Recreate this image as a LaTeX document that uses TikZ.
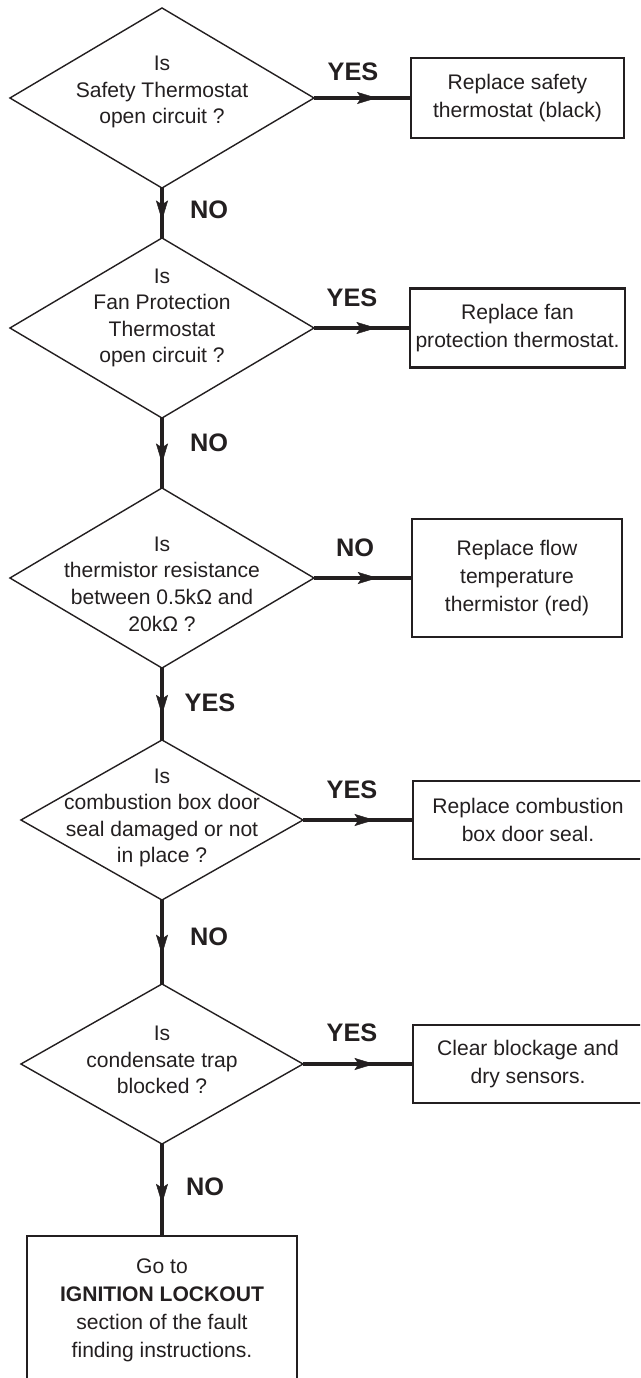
\documentclass[tikz,border=0pt]{standalone}
\usepackage{fontspec}
\setmainfont{Liberation Sans}
\usetikzlibrary{shapes.geometric,arrows.meta,decorations.markings}
\definecolor{ink}{HTML}{231F20}
\newcommand\qsize{\fontsize{15}{18.9}\selectfont}
\newcommand\bsize{\fontsize{15}{19.9}\selectfont}
\newcommand\asize{\fontsize{18}{21}\selectfont\bfseries}

\begin{document}
\begin{tikzpicture}[x=0.025cm, y=-0.025cm,
    decision/.style={diamond, draw=ink, line width=1pt, inner sep=0pt, outer sep=0pt, minimum width=7.6cm, minimum height=4.5cm},
    qtext/.style={align=center, text=ink, font=\qsize},
    action/.style={rectangle, draw=ink, line width=1.5pt, inner sep=0pt, outer sep=0pt, align=center, text=ink, font=\bsize},
    answer/.style={text=ink, font=\asize},
    flow/.style={draw=ink, line width=3.2pt, postaction={decorate},
        decoration={markings, mark=at position 0.65 with {\arrow{Stealth[length=0.5cm, width=0.3cm, inset=0.1cm, line width=0.3pt]}}}}]
        \path[use as bounding box, clip] (0,0) rectangle (640,1378);

        % question 1
        \node[decision] (d1) at (162,98) {};
        \node[qtext] (t1) at (162,92) {Is\\Safety Thermostat\\open circuit ?};
        \node[action, minimum width=5.325cm, minimum height=2cm] (b1) at (517.5,98) {Replace safety\\thermostat (black)};
        \node[answer] (a1) at (353,72) {YES};
        \node[answer] (a2) at (209,210) {NO};

        % question 2
        \node[decision] (d2) at (162,328) {};
        \node[qtext] (t2) at (162,318) {Is\\Fan Protection\\Thermostat\\open circuit ?};
        \node[action, minimum width=5.375cm, minimum height=1.975cm] (b2) at (517.5,328) {Replace fan\\protection thermostat.};
        \node[answer] (a3) at (352,298) {YES};
        \node[answer] (a4) at (209,443) {NO};

        % question 3
        \node[decision] (d3) at (162,578) {};
        \node[qtext] (t3) at (162,584) {Is\\thermistor resistance\\between 0.5kΩ and\\20kΩ ?};
        \node[action, minimum width=5.25cm, minimum height=2.95cm] (b3) at (517,578) {Replace flow\\temperature\\thermistor (red)};
        \node[answer] (a5) at (355,548) {NO};
        \node[answer] (a6) at (210,703) {YES};

        % question 4
        \node[decision, minimum width=7.05cm, minimum height=4cm] (d4) at (162,820) {};
        \node[qtext] (t4) at (162,818) {Is\\combustion box door\\seal damaged or not\\in place ?};
        \node[action, minimum width=5.75cm, minimum height=1.95cm] (b4) at (528,820) {Replace combustion\\box door seal.};
        \node[answer] (a7) at (352,790) {YES};
        \node[answer] (a8) at (209,937) {NO};

        % question 5
        \node[decision, minimum width=7.05cm, minimum height=4cm] (d5) at (162,1064) {};
        \node[qtext] (t5) at (162,1060) {Is\\condensate trap\\blocked ?};
        \node[action, minimum width=5.75cm, minimum height=1.95cm] (b5) at (528,1064) {Clear blockage and\\dry sensors.};
        \node[answer] (a9) at (352,1033) {YES};
        \node[answer] (a10) at (205,1187) {NO};

        \node[action, minimum width=6.75cm, minimum height=3.7cm] (b6) at (162,1310) {Go to\\\textbf{IGNITION LOCKOUT}\\section of the fault\\finding instructions.};

        \draw[flow] (d1.east) -- (b1.west);
        \draw[flow] (d2.east) -- (b2.west);
        \draw[flow] (d3.east) -- (b3.west);
        \draw[flow] (d4.east) -- (b4.west);
        \draw[flow] (d5.east) -- (b5.west);
        \draw[flow] (d1.south) -- (d2.north);
        \draw[flow] (d2.south) -- (d3.north);
        \draw[flow] (d3.south) -- (d4.north);
        \draw[flow] (d4.south) -- (d5.north);
        \draw[flow] (d5.south) -- (b6.north);
\end{tikzpicture}
\end{document}
